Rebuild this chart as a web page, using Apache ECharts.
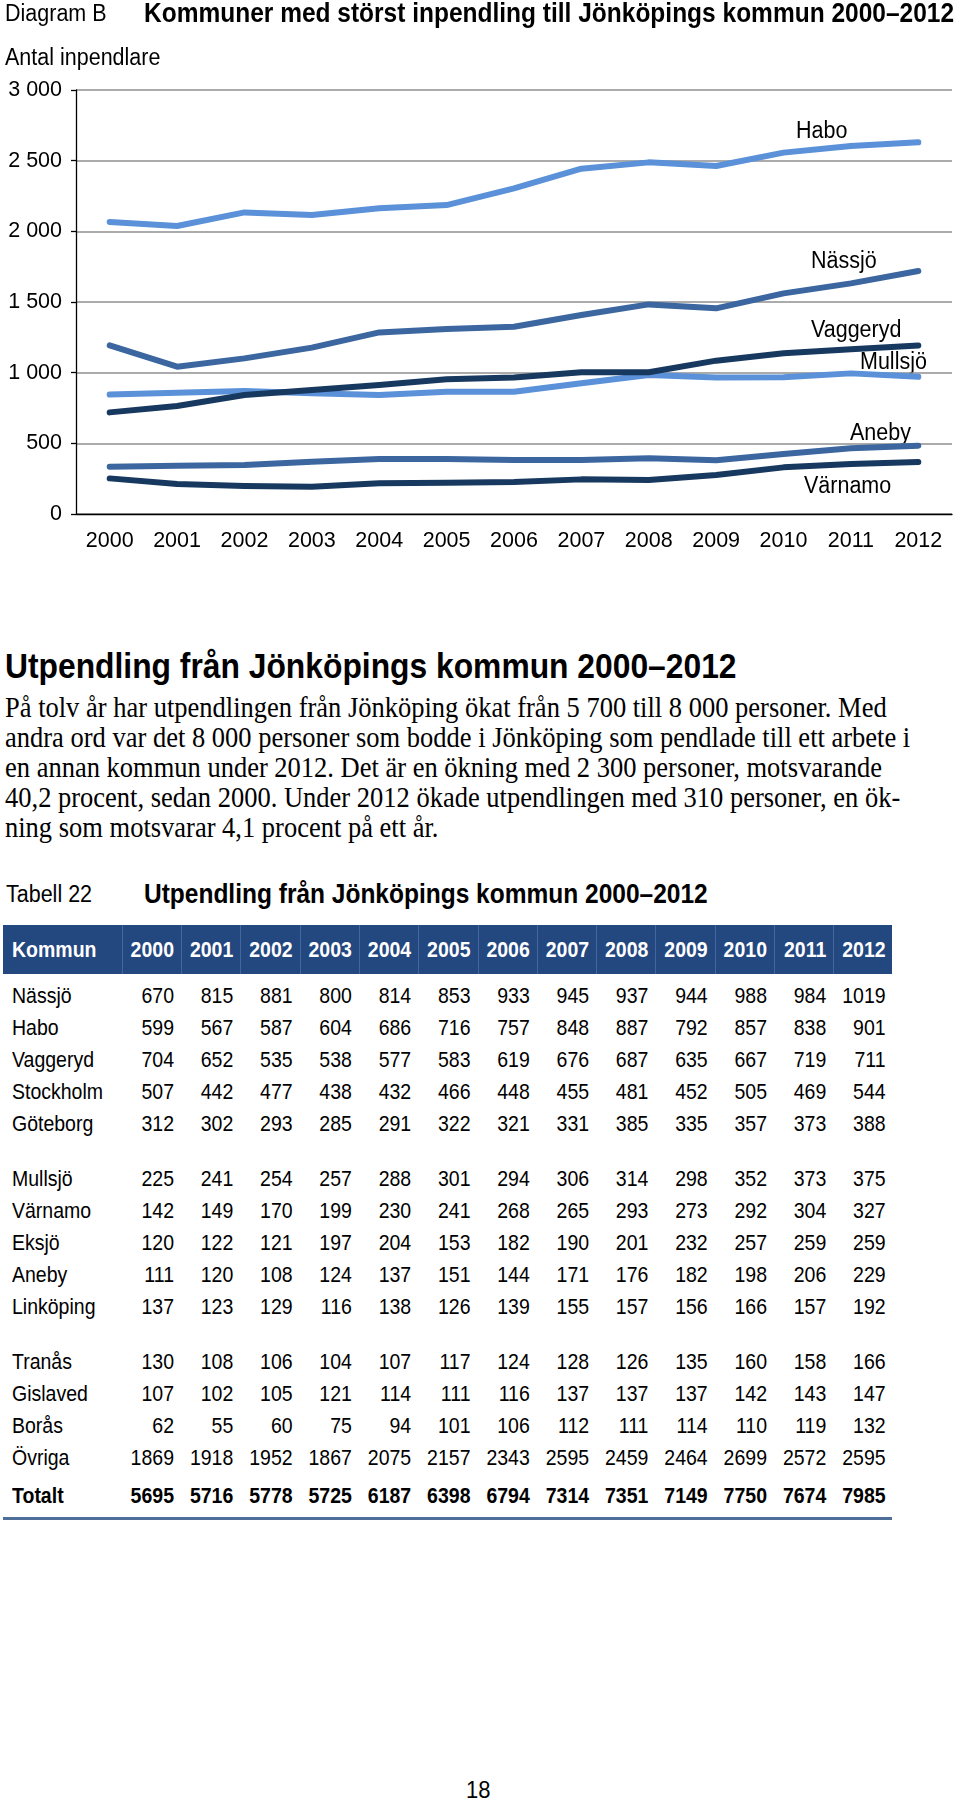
<!DOCTYPE html>
<html>
<head>
<meta charset="utf-8">
<script src="https://cdn.jsdelivr.net/npm/echarts@6/dist/echarts.min.js"></script>
<style>
    html, body { margin: 0; padding: 0; background: #fff; }
    body { width: 960px; height: 1801px; position: relative; overflow: hidden; font-family: "Liberation Sans", Arial, sans-serif; color: #000; }
    #main { position: absolute; left: 0; top: 0; width: 960px; height: 600px; }
    .abs { position: absolute; white-space: nowrap; }
    .tall { transform: scaleY(1.12); transform-origin: 0 50%; }
    .h2 { font-weight: bold; font-size: 31.8px; left: 5px; top: 648px; }
    .para { font-family: "Liberation Serif", "Times New Roman", serif; font-size: 26.5px; left: 5px; line-height: 30px; }
    .tcap { font-size: 21.5px; left: 6px; top: 882px; }
    .ttitle { font-weight: bold; font-size: 24.5px; left: 144px; top: 880px; }
    .bar { left: 3px; top: 925px; width: 889px; height: 49px; background: #23477f; }
    .sep { top: 925px; width: 1px; height: 49px; background: #4466a0; }
    .cell { font-size: 19.5px; width: 70px; text-align: right; line-height: 24px; }
    .name { font-size: 19.5px; left: 12px; line-height: 24px; }
    .rule { left: 3px; top: 1517px; width: 889px; height: 2.5px; background: #4d6f99; }
    .pnum { font-size: 22px; left: 466px; top: 1777px; }
</style>
</head>
<body>
<div id="main"></div>
<div id="page"></div>
<script>
// Diagram B: inpendlare till Jönköpings kommun
var years = ['2000', '2001', '2002', '2003', '2004', '2005', '2006', '2007', '2008', '2009', '2010', '2011', '2012'];
var habo = [2066, 2038, 2134, 2115, 2163, 2186, 2304, 2443, 2488, 2462, 2557, 2604, 2630];
var nassjo = [1193, 1042, 1101, 1177, 1285, 1309, 1325, 1408, 1483, 1455, 1561, 1632, 1719];
var vaggeryd = [719, 764, 842, 877, 913, 953, 965, 1003, 1003, 1085, 1137, 1165, 1193];
var mullsjo = [845, 858, 870, 854, 842, 865, 865, 925, 983, 965, 967, 995, 971];
var aneby = [335, 342, 347, 370, 389, 389, 382, 382, 394, 380, 424, 465, 483];
var varnamo = [252, 212, 198, 193, 217, 221, 226, 245, 241, 276, 330, 354, 368];
var yTicks = [0, 500, 1000, 1500, 2000, 2500, 3000];

// Tabell 22: utpendling från Jönköpings kommun
var tblHead = ['Kommun', '2000', '2001', '2002', '2003', '2004', '2005', '2006', '2007', '2008', '2009', '2010', '2011', '2012'];
var tNassjo = [670, 815, 881, 800, 814, 853, 933, 945, 937, 944, 988, 984, 1019];
var tHabo = [599, 567, 587, 604, 686, 716, 757, 848, 887, 792, 857, 838, 901];
var tVaggeryd = [704, 652, 535, 538, 577, 583, 619, 676, 687, 635, 667, 719, 711];
var tStockholm = [507, 442, 477, 438, 432, 466, 448, 455, 481, 452, 505, 469, 544];
var tGoteborg = [312, 302, 293, 285, 291, 322, 321, 331, 385, 335, 357, 373, 388];
var tMullsjo = [225, 241, 254, 257, 288, 301, 294, 306, 314, 298, 352, 373, 375];
var tVarnamo = [142, 149, 170, 199, 230, 241, 268, 265, 293, 273, 292, 304, 327];
var tEksjo = [120, 122, 121, 197, 204, 153, 182, 190, 201, 232, 257, 259, 259];
var tAneby = [111, 120, 108, 124, 137, 151, 144, 171, 176, 182, 198, 206, 229];
var tLinkoping = [137, 123, 129, 116, 138, 126, 139, 155, 157, 156, 166, 157, 192];
var tTranas = [130, 108, 106, 104, 107, 117, 124, 128, 126, 135, 160, 158, 166];
var tGislaved = [107, 102, 105, 121, 114, 111, 116, 137, 137, 137, 142, 143, 147];
var tBoras = [62, 55, 60, 75, 94, 101, 106, 112, 111, 114, 110, 119, 132];
var tOvriga = [1869, 1918, 1952, 1867, 2075, 2157, 2343, 2595, 2459, 2464, 2699, 2572, 2595];
var tTotalt = [5695, 5716, 5778, 5725, 6187, 6398, 6794, 7314, 7351, 7149, 7750, 7674, 7985];

var paraLines = [
    'På tolv år har utpendlingen från Jönköping ökat från 5 700 till 8 000 personer. Med',
    'andra ord var det 8 000 personer som bodde i Jönköping som pendlade till ett arbete i',
    'en annan kommun under 2012. Det är en ökning med 2 300 personer, motsvarande',
    '40,2 procent, sedan 2000. Under 2012 ökade utpendlingen med 310 personer, en ök-',
    'ning som motsvarar 4,1 procent på ett år.'
];

var LIGHT = '#5a91d8';
var MID = '#3b669f';
var DARK = '#17385f';
var FONT = '"Liberation Sans", Arial, sans-serif';

function fmt(v) {
    return v >= 1000 ? Math.floor(v / 1000) + ' ' + String(v % 1000).padStart(3, '0') : String(v);
}

function line(name, data, color) {
    return {
        name: name,
        type: 'line',
        data: data,
        symbol: 'none',
        silent: true,
        lineStyle: { color: color, width: 6, cap: 'round', join: 'round' }
    };
}

// tekst som är lite högre, som i förlagan
function txt(text, x, y, font) {
    return {
        type: 'text', x: x, y: y, scaleY: 1.12,
        style: { text: text, font: font, fill: '#000', verticalAlign: 'middle' }
    };
}

var myChart = echarts.init(document.getElementById('main'));
myChart.setOption({
    animation: false,
    grid: { left: 76, right: 8, top: 90, height: 424 },
    xAxis: {
        type: 'category',
        data: years,
        boundaryGap: true,
        axisLine: { lineStyle: { color: '#000', width: 1.3 } },
        axisTick: { length: 7, lineStyle: { color: '#000', width: 1.3 } },
        axisLabel: { color: '#000', fontSize: 21.5, fontFamily: FONT, margin: 16 }
    },
    yAxis: {
        type: 'value',
        min: yTicks[0],
        max: yTicks[yTicks.length - 1],
        interval: 500,
        axisLine: { show: true, lineStyle: { color: '#000', width: 1.3 } },
        axisTick: { show: true, length: 5, lineStyle: { color: '#000', width: 1.3 } },
        axisLabel: { color: '#000', fontSize: 21.5, fontFamily: FONT, margin: 14, formatter: fmt },
        splitLine: { lineStyle: { color: '#8f8f8f', width: 1.5 } }
    },
    series: [
        line('Värnamo', varnamo, DARK),
        line('Aneby', aneby, MID),
        line('Mullsjö', mullsjo, LIGHT),
        line('Vaggeryd', vaggeryd, DARK),
        line('Nässjö', nassjo, MID),
        line('Habo', habo, LIGHT)
    ],
    graphic: [
        txt('Diagram B', 5, 14, '21.5px ' + FONT),
        txt('Kommuner med störst inpendling till Jönköpings kommun 2000–2012', 144, 14, 'bold 24.5px ' + FONT),
        txt('Antal inpendlare', 5, 58, '21.5px ' + FONT),
        txt('Habo', 796, 131, '21.5px ' + FONT),
        txt('Nässjö', 811, 261, '21.5px ' + FONT),
        txt('Vaggeryd', 811, 330, '21.5px ' + FONT),
        txt('Mullsjö', 860, 362, '21.5px ' + FONT),
        txt('Aneby', 850, 433, '21.5px ' + FONT),
        txt('Värnamo', 804, 486, '21.5px ' + FONT)
    ]
});

// text och tabell under diagrammet
var page = document.getElementById('page');
function add(cls, text, css) {
    var d = document.createElement('div');
    d.className = 'abs ' + cls;
    d.textContent = text;
    if (css) d.style.cssText += css;
    page.appendChild(d);
    return d;
}

add('h2 tall', 'Utpendling från Jönköpings kommun 2000–2012');
paraLines.forEach(function(t, i) {
    add('para tall', t, 'top:' + (692 + i * 30) + 'px');
});
add('tcap tall', 'Tabell 22');
add('ttitle tall', 'Utpendling från Jönköpings kommun 2000–2012');
add('bar', '');
add('sep', '', 'left:122px');
for (var s = 0; s < 12; s++) add('sep', '', 'left:' + Math.round(181 + s * 59.3) + 'px');

function colRight(i) { return 174 + i * 59.3; }

tblHead.forEach(function(h, i) {
    if (i == 0) add('name tall', h, 'top:937px;color:#fff;font-weight:bold;');
    else add('cell tall', h, 'top:937px;color:#fff;font-weight:bold;left:' + (colRight(i - 1) - 70) + 'px');
});

var rows = [
    ['Nässjö', tNassjo, 995], ['Habo', tHabo, 1027], ['Vaggeryd', tVaggeryd, 1059],
    ['Stockholm', tStockholm, 1091], ['Göteborg', tGoteborg, 1123],
    ['Mullsjö', tMullsjo, 1178], ['Värnamo', tVarnamo, 1210], ['Eksjö', tEksjo, 1242],
    ['Aneby', tAneby, 1274], ['Linköping', tLinkoping, 1306],
    ['Tranås', tTranas, 1361], ['Gislaved', tGislaved, 1393], ['Borås', tBoras, 1425],
    ['Övriga', tOvriga, 1457], ['Totalt', tTotalt, 1495]
];
rows.forEach(function(r) {
    var bold = r[0] == 'Totalt' ? 'font-weight:bold;' : '';
    var top = r[2] - 12;
    add('name tall', r[0], 'top:' + top + 'px;' + bold);
    r[1].forEach(function(v, i) {
        add('cell tall', String(v), 'top:' + top + 'px;' + bold + 'left:' + (colRight(i) - 70) + 'px');
    });
});
add('rule', '');
add('pnum tall', '18');
</script>
</body>
</html>
